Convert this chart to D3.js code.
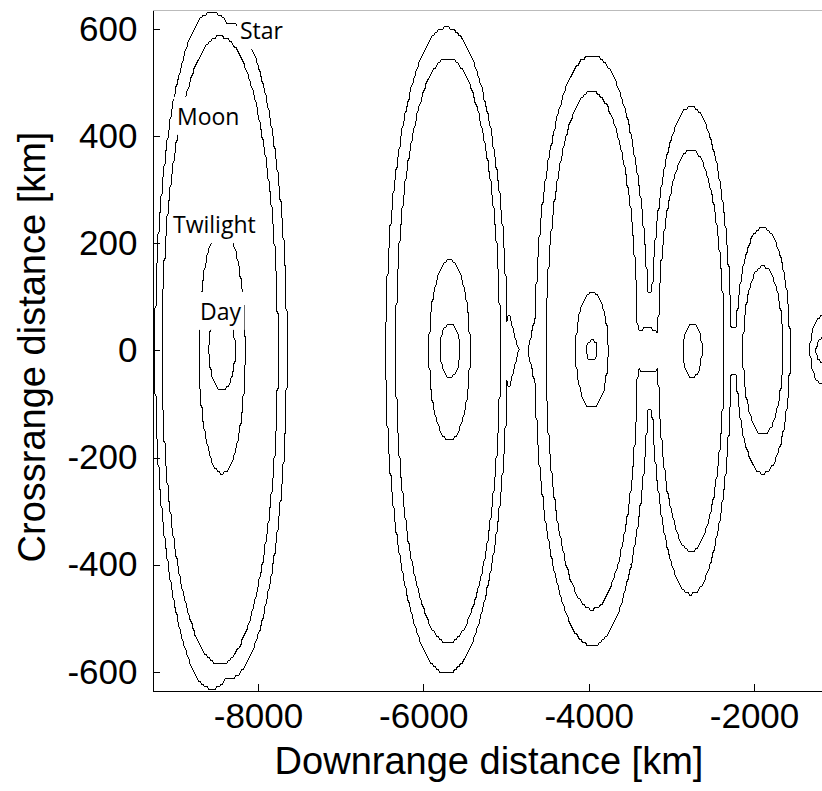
<!DOCTYPE html>
<html>
<head>
<meta charset="utf-8">
<script src="https://cdn.jsdelivr.net/npm/d3@7"></script>
<style>
  body { margin: 0; background: #fff; }
  svg { display: block; }
</style>
</head>
<body>
<svg id="graph"></svg>
<script>
/* contour outlines:
   each entry is [centre downrange km, half width km, half height km, norm (2 = ellipse, 1 = diamond)] */
var levels = ["Star", "Moon", "Twilight", "Day"];

var starShapes = [
  [-8556, 689, 632, 2], [-8339, 689, 611, 2],
  [-5720, 732, 602, 2], [-4964, 121, 70, 1], [-4637, 97, 70, 1],
  [-3960, 689, 551, 2], [-3258, 145, 110, 2],
  [-2762, 484, 455, 2], [-2248, 85, 45, 2],
  [-1892, 327, 230, 2],
  [-1154, 169, 64, 2]
];
var moonShapes = [
  [-8460, 702, 586, 2],
  [-5702, 629, 546, 2],
  [-3960, 556, 483, 2], [-3283, 194, 42, 2],
  [-2762, 399, 375, 2],
  [-1892, 242, 157, 2],
  [-1154, 97, 25, 2]
];
var twilightShapes = [
  [-8435, 278, 230, 2],
  [-5684, 248, 168, 2],
  [-3960, 194, 108, 2],
  [-2744, 115, 50, 2]
];
var dayShapes = [
  [-8435, 157, 75, 2],
  [-5678, 121, 50, 2],
  [-3960, 67, 19, 2]
];

var xTicks = [-8000, -6000, -4000, -2000];
var yTicks = [-600, -400, -200, 0, 200, 400, 600];

// label anchors (data units, left end / baseline)
var labelX = [-8218, -8980, -9028, -8702];
var labelY = [581, 421, 219, 57];

var svg = d3.select("#graph")
    .attr("width", 822)
    .attr("height", 791);

var plot = {left: 152.5, right: 824.3, top: 10.2, bottom: 690.7};

var x = d3.scaleLinear().domain([-9276, -1150]).range([plot.left, plot.right]),
    y = d3.scaleLinear().domain([-635, 635]).range([plot.bottom, plot.top]);

svg.append("clipPath").attr("id", "clip")
  .append("rect")
    .attr("x", plot.left).attr("y", plot.top)
    .attr("width", plot.right - plot.left)
    .attr("height", plot.bottom - plot.top);

// sampling grid for the contour field
var xMin = -9320, xMax = -880, dx = 18,
    yMin = -650, yMax = 650, dy = 5.5;
var nx = Math.ceil((xMax - xMin) / dx),
    ny = Math.ceil((yMax - yMin) / dy);

function field(shapes) {
  var values = new Float64Array(nx * ny);
  for (var j = 0; j < ny; j++) {
    var py = yMin + (j + 0.5) * dy;
    for (var i = 0; i < nx; i++) {
      var px = xMin + (i + 0.5) * dx, v = -Infinity;
      shapes.forEach(function(s) {
        var u = Math.abs(px - s[0]) / s[1], w = Math.abs(py) / s[2];
        var r = s[3] === 1 ? u + w : Math.sqrt(u * u + w * w);
        if (1 - r > v) v = 1 - r;
      });
      values[j * nx + i] = v;
    }
  }
  return values;
}

var toScreen = d3.geoTransform({
  point: function(gx, gy) {
    this.stream.point(x(xMin + gx * dx), y(yMin + gy * dy));
  }
});
var path = d3.geoPath(toScreen);

var contours = d3.contours().size([nx, ny]).smooth(false).thresholds([0]);

var g = svg.append("g").attr("clip-path", "url(#clip)");

[starShapes, moonShapes, twilightShapes, dayShapes].forEach(function(shapes, k) {
  g.append("path")
    .datum(contours(field(shapes))[0])
    .attr("class", "contour " + levels[k])
    .attr("d", path)
    .attr("fill", "none")
    .attr("stroke", "#000")
    .attr("stroke-width", 1)
    .attr("shape-rendering", "crispEdges");
});

// level labels on white boxes
levels.forEach(function(name, i) {
  var lg = g.append("g");
  var t = lg.append("text")
      .attr("x", x(labelX[i]))
      .attr("y", y(labelY[i]))
      .attr("font-family", "Open Sans, sans-serif")
      .attr("font-size", 23)
      .attr("fill", "#000")
      .text(name);
  var b = t.node().getBBox();
  lg.insert("rect", "text")
      .attr("x", b.x - 3).attr("y", b.y - 3)
      .attr("width", b.width + 6).attr("height", b.height + 6)
      .attr("fill", "#fff");
});

// frame
svg.append("line")
    .attr("x1", plot.left).attr("x2", plot.right)
    .attr("y1", plot.top).attr("y2", plot.top)
    .attr("stroke", "#bbb")
    .attr("shape-rendering", "crispEdges");

var xaxis = svg.append("g")
    .attr("transform", "translate(0," + plot.bottom + ")")
    .call(d3.axisBottom(x).tickValues(xTicks).tickSizeInner(-7).tickSizeOuter(0)
      .tickPadding(12).tickFormat(function(d) { return String(d); }));

var yaxis = svg.append("g")
    .attr("transform", "translate(" + plot.left + ",0)")
    .call(d3.axisLeft(y).tickValues(yTicks).tickSizeInner(-7).tickSizeOuter(0)
      .tickPadding(15).tickFormat(function(d) { return String(d); }));

svg.selectAll(".tick text")
    .attr("font-family", "Liberation Sans, Arial, sans-serif")
    .attr("font-size", 35)
    .attr("fill", "#000");
svg.selectAll(".domain, .tick line")
    .attr("stroke", "#000")
    .attr("shape-rendering", "crispEdges");

svg.append("text")
    .attr("x", 489).attr("y", 774)
    .attr("text-anchor", "middle")
    .attr("font-family", "Liberation Sans, Arial, sans-serif")
    .attr("font-size", 38)
    .text("Downrange distance [km]");

svg.append("text")
    .attr("transform", "translate(45,347) rotate(-90)")
    .attr("text-anchor", "middle")
    .attr("font-family", "Liberation Sans, Arial, sans-serif")
    .attr("font-size", 38)
    .text("Crossrange distance [km]");
</script>
</body>
</html>
